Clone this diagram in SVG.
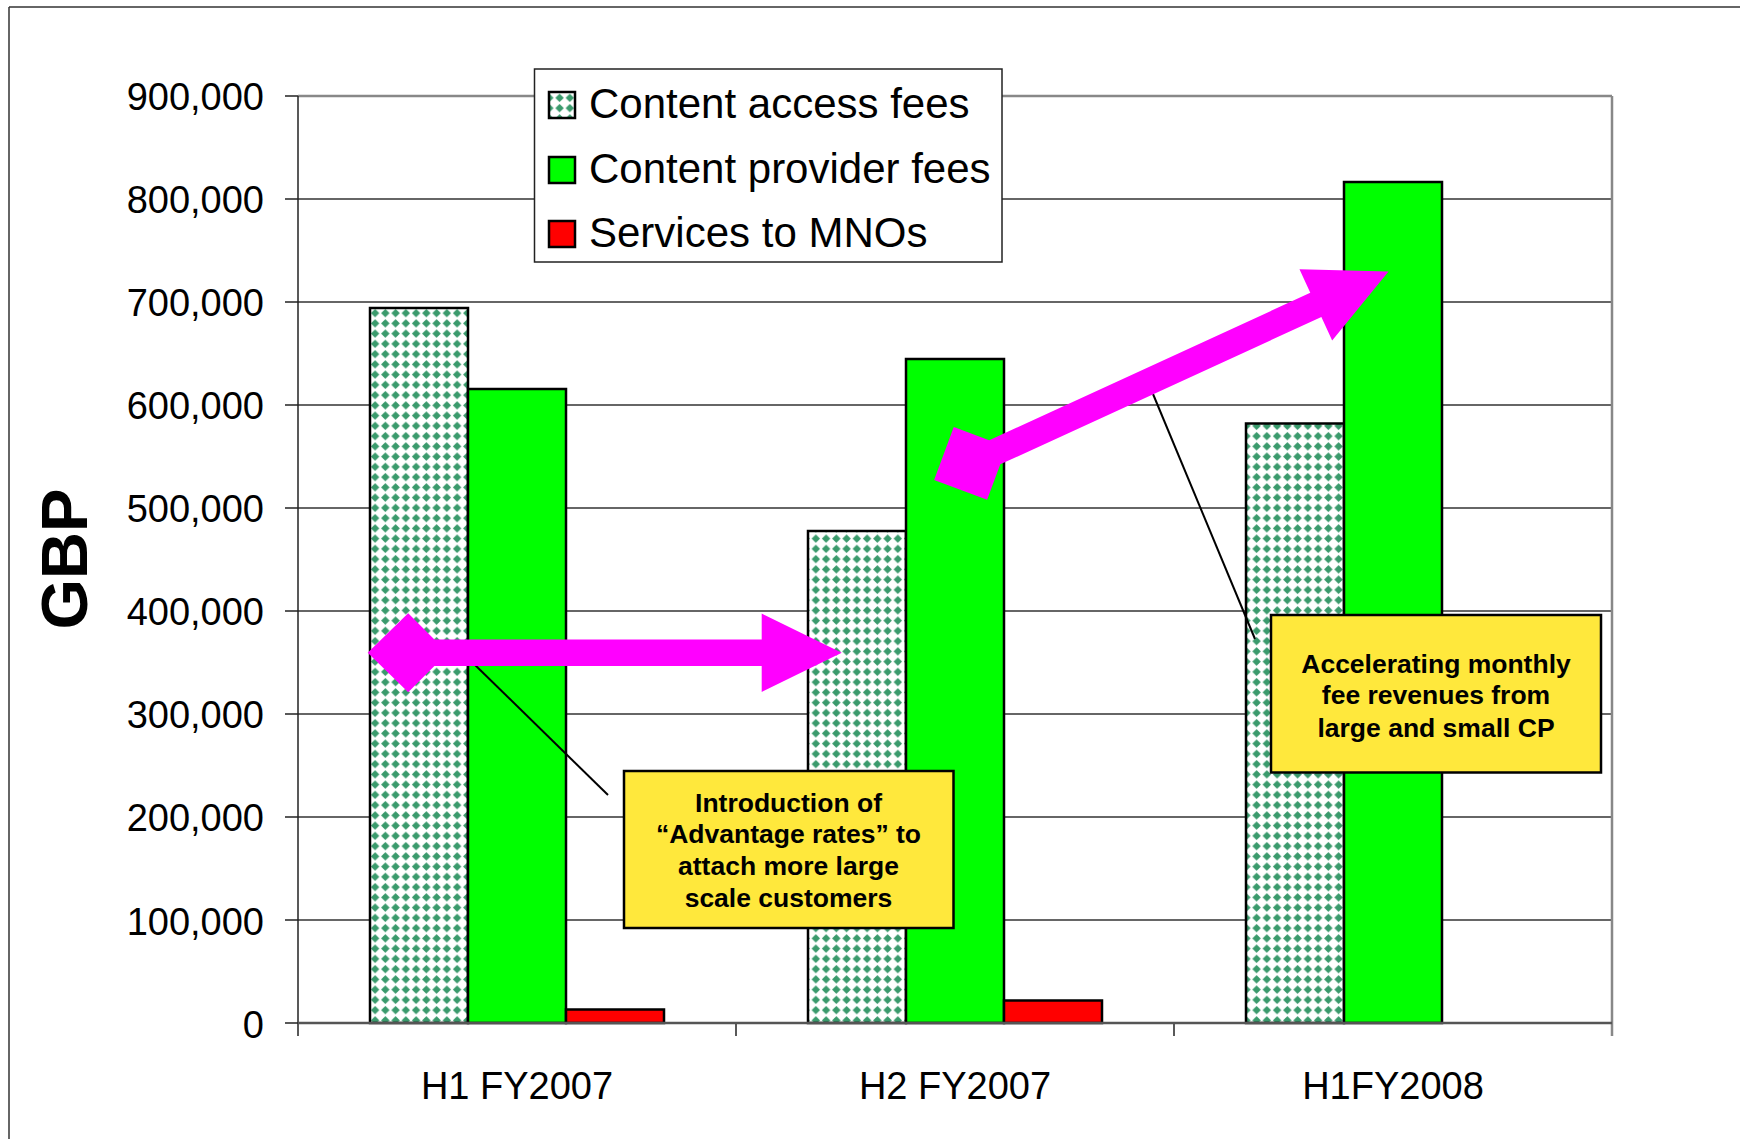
<svg xmlns="http://www.w3.org/2000/svg" width="1749" height="1139" viewBox="0 0 1749 1139">
<defs>
<pattern id="dots" width="10.25" height="10.25" patternUnits="userSpaceOnUse" x="370" y="308">
<rect width="10.25" height="10.25" fill="#ffffff"/>
<polygon points="5.1,0.9 9.3,5.1 5.1,9.3 0.9,5.1" fill="#3a9a6c"/>
</pattern>
<style>
.grid{stroke:#333;stroke-width:1.5}
.bar{stroke:#000;stroke-width:2.5}
.acc{fill:url(#dots)}
.prov{fill:#00ff00}
.mno{fill:#ff0000}
.ylab{font-family:"Liberation Sans",Arial,sans-serif;font-size:38px;text-anchor:end;fill:#000}
.xlab{font-family:"Liberation Sans",Arial,sans-serif;font-size:38px;text-anchor:middle;fill:#000}
.leg{font-family:"Liberation Sans",Arial,sans-serif;font-size:42px;fill:#000}
.sw{stroke:#000;stroke-width:2.5}
.note{fill:#ffe83c;stroke:#000;stroke-width:2.5}
.ntext{font-family:"Liberation Sans",Arial,sans-serif;font-size:26.5px;font-weight:bold;text-anchor:middle;fill:#000}
.arrow{fill:#ff00ff}
.lead{stroke:#000;stroke-width:2;fill:none}
</style>
</defs>

<g id="frame">
<line x1="9" y1="7" x2="1740" y2="7" stroke="#333" stroke-width="1.5"/>
<line x1="9" y1="7" x2="9" y2="1139" stroke="#333" stroke-width="1.5"/>
</g>

<g id="axes">
<line class="grid" x1="298" y1="920" x2="1612" y2="920"/>
<line class="grid" x1="298" y1="817" x2="1612" y2="817"/>
<line class="grid" x1="298" y1="714" x2="1612" y2="714"/>
<line class="grid" x1="298" y1="611" x2="1612" y2="611"/>
<line class="grid" x1="298" y1="508" x2="1612" y2="508"/>
<line class="grid" x1="298" y1="405" x2="1612" y2="405"/>
<line class="grid" x1="298" y1="302" x2="1612" y2="302"/>
<line class="grid" x1="298" y1="199" x2="1612" y2="199"/>
<line x1="298" y1="96" x2="1612" y2="96" stroke="#888" stroke-width="2.5"/>
<line x1="1612" y1="96" x2="1612" y2="1036" stroke="#888" stroke-width="2.5"/>
<line x1="298" y1="96" x2="298" y2="1036" stroke="#222" stroke-width="1.5"/>
<g stroke="#222" stroke-width="1.5">
<line x1="285" y1="96" x2="298" y2="96"/>
<line x1="285" y1="199" x2="298" y2="199"/>
<line x1="285" y1="302" x2="298" y2="302"/>
<line x1="285" y1="405" x2="298" y2="405"/>
<line x1="285" y1="508" x2="298" y2="508"/>
<line x1="285" y1="611" x2="298" y2="611"/>
<line x1="285" y1="714" x2="298" y2="714"/>
<line x1="285" y1="817" x2="298" y2="817"/>
<line x1="285" y1="920" x2="298" y2="920"/>
<line x1="285" y1="1023" x2="298" y2="1023"/>
<line x1="736" y1="1023" x2="736" y2="1036"/>
<line x1="1174" y1="1023" x2="1174" y2="1036"/>
</g>
<g class="ylab">
<text x="264" y="110">900,000</text>
<text x="264" y="213">800,000</text>
<text x="264" y="316">700,000</text>
<text x="264" y="419">600,000</text>
<text x="264" y="522">500,000</text>
<text x="264" y="625">400,000</text>
<text x="264" y="728">300,000</text>
<text x="264" y="831">200,000</text>
<text x="264" y="935">100,000</text>
<text x="264" y="1038">0</text>
</g>
<g class="xlab">
<text x="517" y="1099">H1 FY2007</text>
<text x="955" y="1099">H2 FY2007</text>
<text x="1393" y="1099">H1FY2008</text>
</g>
<text x="87" y="559" transform="rotate(-90 87 559)" font-family="Liberation Sans, Arial, sans-serif" font-size="65" font-weight="bold" text-anchor="middle" fill="#000">GBP</text>
</g>

<g id="bars">
<rect class="bar acc" x="370" y="308" width="98" height="715"/>
<rect class="bar prov" x="468" y="389" width="98" height="634"/>
<rect class="bar mno" x="566" y="1009.5" width="98" height="13.5"/>
<rect class="bar acc" x="808" y="531" width="98" height="492"/>
<rect class="bar prov" x="906" y="359" width="98" height="664"/>
<rect class="bar mno" x="1004" y="1000.5" width="98" height="22.5"/>
<rect class="bar acc" x="1246" y="423.5" width="98" height="599.5"/>
<rect class="bar prov" x="1344" y="182" width="98" height="841"/>
</g>
<line x1="298" y1="1023" x2="1612" y2="1023" stroke="#555" stroke-width="2.5"/>

<g id="connectors">
<line class="lead" x1="473" y1="663" x2="608" y2="795"/>
<line class="lead" x1="1153" y1="394" x2="1255" y2="639"/>
</g>

<g id="arrow-1">
<polygon class="arrow" transform="translate(367.7 652.7)" points="0,0 40.5,-39.5 66.7,-13.3 394,-13.3 394,-39.2 474,0 394,39.2 394,13.3 66.7,13.3 40.5,39.5"/>
</g>
<g id="arrow-2">
<polygon class="arrow" transform="translate(934.1 480.1) rotate(-24.65)" points="0,0 40,-40 66.7,-13.3 420,-13.3 420,-39.2 500,0 420,39.2 420,13.3 66.7,13.3 40,40"/>
</g>

<g id="note-advantage">
<rect class="note" x="624" y="771" width="329.5" height="157"/>
<text class="ntext" x="788.5" y="811.5">Introduction of</text>
<text class="ntext" x="788.5" y="843.3">“Advantage rates” to</text>
<text class="ntext" x="788.5" y="875">attach more large</text>
<text class="ntext" x="788.5" y="906.7">scale customers</text>
</g>

<g id="note-accelerating">
<rect class="note" x="1271" y="615" width="330" height="157.5"/>
<text class="ntext" x="1436" y="672.5">Accelerating monthly</text>
<text class="ntext" x="1436" y="704.3">fee revenues from</text>
<text class="ntext" x="1436" y="736.5">large and small CP</text>
</g>

<g id="legend">
<rect x="534.5" y="69" width="467.5" height="193" fill="#fff" stroke="#222" stroke-width="1.5"/>
<rect class="sw" x="549" y="92" width="26" height="26" fill="url(#dots)"/>
<rect class="sw prov" x="549" y="157" width="26" height="26"/>
<rect class="sw mno" x="549" y="221" width="26" height="26"/>
<text class="leg" x="589" y="118">Content access fees</text>
<text class="leg" x="589" y="182.5">Content provider fees</text>
<text class="leg" x="589" y="246.5">Services to MNOs</text>
</g>
</svg>
